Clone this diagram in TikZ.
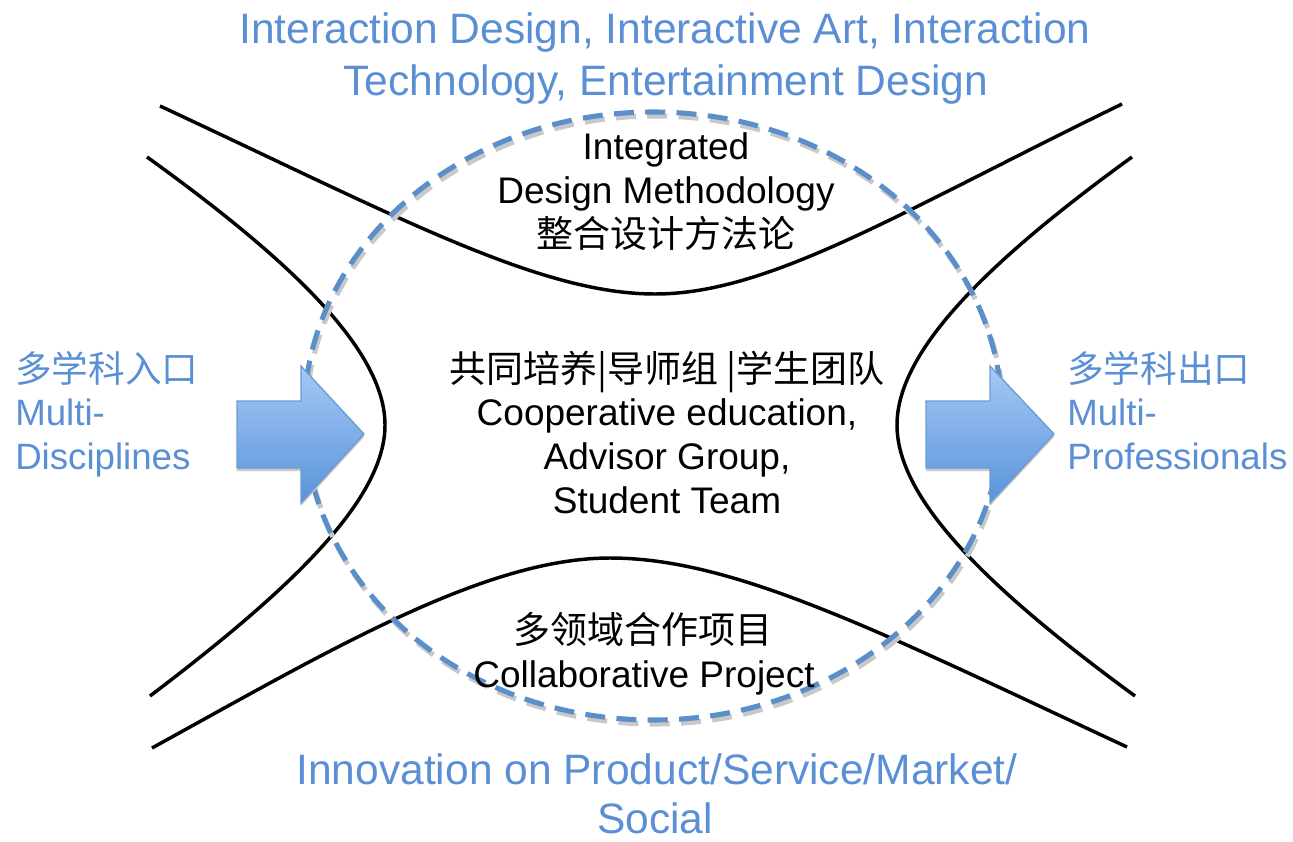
\documentclass[tikz,border=0pt]{standalone}
\usepackage{fontspec}
\setmainfont{Liberation Sans}
\newfontfamily\cjk{Noto Sans CJK SC}
\definecolor{txtblue}{HTML}{5A8FD5}
\definecolor{dashblue}{HTML}{5B8FC9}
\definecolor{arrowtop}{HTML}{A6C8F6}
\definecolor{arrowbot}{HTML}{5894D9}
\definecolor{arrowedge}{HTML}{6C9BD2}
\definecolor{shadowgray}{HTML}{C8C8C8}
\tikzset{
  bigblue/.style={inner sep=0pt, anchor=base, text=txtblue, font=\fontsize{31.9}{39}\selectfont},
  sideblue/.style={inner sep=0pt, anchor=base west, text=txtblue, font=\fontsize{27.5}{33}\selectfont},
  sidecjk/.style={sideblue, font=\fontsize{27.5}{33}\cjk},
  blacktxt/.style={inner sep=0pt, anchor=base, text=black, font=\fontsize{27.75}{33}\selectfont},
  blackcjk/.style={blacktxt, font=\fontsize{27.75}{33}\cjk},
  hcurve/.style={line width=2.6pt, black},
  dashring/.style={line width=3.8pt, dashblue, dash pattern=on 15pt off 8.5pt},
  ringshadow/.style={line width=3.8pt, shadowgray, dash pattern=on 15pt off 8.5pt},
  bigarrow/.style={draw=arrowedge, line width=1pt, top color=arrowtop, bottom color=arrowbot},
  arrowshadow/.style={fill=shadowgray}
}
\begin{document}
\begin{tikzpicture}[x=0.75pt,y=-0.75pt]
\useasboundingbox (0,0) rectangle (1293,842);

% hyperbola-like curves
\draw[hcurve] (160,106) .. controls (400,218) and (540,294) .. (655,294)
  .. controls (770,294) and (900,212) .. (1122,104);
\draw[hcurve] (152,748) .. controls (330,650) and (485,558) .. (610,558)
  .. controls (735,558) and (880,632) .. (1127,747);
\draw[hcurve] (147,157) .. controls (290,260) and (385,350) .. (385,425)
  .. controls (385,500) and (290,590) .. (150,696);
\draw[hcurve] (1132,157) .. controls (990,260) and (897,350) .. (897,425)
  .. controls (897,500) and (990,590) .. (1135,696);

% dashed ring with shadow
\draw[ringshadow] (655,420) ellipse [x radius=261.75pt, y radius=228pt];
\draw[dashring] (653,416) ellipse [x radius=261.75pt, y radius=228pt];

% arrows
\fill[arrowshadow] (237,404) -- (301,404) -- (301,369) -- (364,437) -- (301,506) -- (301,471) -- (237,471) -- cycle;
\path[bigarrow] (237,401) -- (301,401) -- (301,366) -- (364,434) -- (301,503) -- (301,468) -- (237,468) -- cycle;
\fill[arrowshadow] (926,404) -- (990,404) -- (990,369) -- (1054,437) -- (990,506) -- (990,471) -- (926,471) -- cycle;
\path[bigarrow] (926,401) -- (990,401) -- (990,366) -- (1054,434) -- (990,503) -- (990,468) -- (926,468) -- cycle;

% top and bottom titles
\node[bigblue] (t1) at (665,44) {Interaction Design, Interactive Art, Interaction};
\node[bigblue] (t2) at (666,96) {Technology, Entertainment Design};
\node[bigblue] (b1) at (657,784) {Innovation on Product/Service/Market/};
\node[bigblue] (b2) at (655,833) {Social};

% top block
\node[blacktxt] (i1) at (666,160) {Integrated};
\node[blacktxt] (i2) at (666,203) {Design Methodology};
\node[blackcjk] (i3) at (666,247) {整合设计方法论};

% centre block
\node[blackcjk] (c1) at (667,382) {共同培养|导师组 |学生团队};
\node[blacktxt] (c2) at (667,425) {Cooperative education,};
\node[blacktxt] (c3) at (667,469) {Advisor Group,};
\node[blacktxt] (c4) at (667,513) {Student Team};

% bottom block
\node[blackcjk] (p1) at (643,643) {多领域合作项目};
\node[blacktxt] (p2) at (644,687) {Collaborative Project};

% sides
\node[sidecjk] (l1) at (15,382) {多学科入口};
\node[sideblue] (l2) at (15,425) {Multi-};
\node[sideblue] (l3) at (15,469) {Disciplines};
\node[sidecjk] (r1) at (1067,382) {多学科出口};
\node[sideblue] (r2) at (1067,425) {Multi-};
\node[sideblue] (r3) at (1067,469) {Professionals};
\end{tikzpicture}
\end{document}
